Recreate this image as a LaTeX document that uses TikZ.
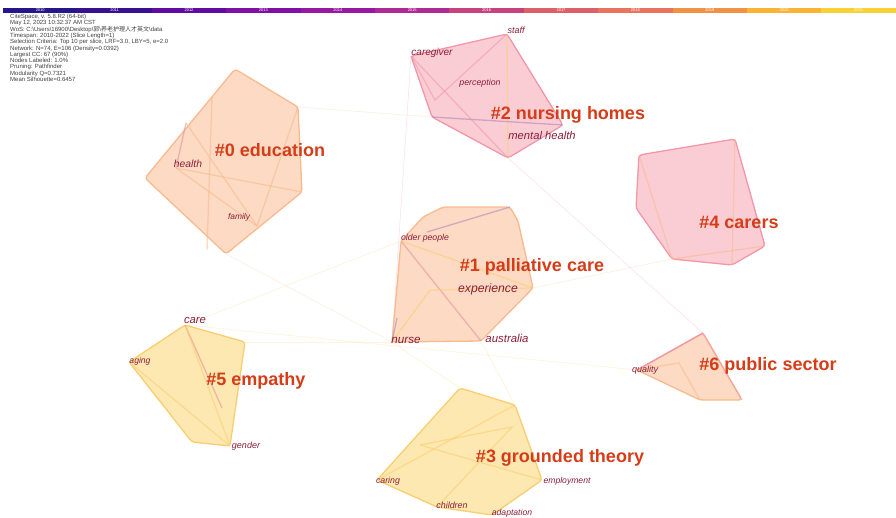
\documentclass[tikz,border=0pt]{standalone}
\usepackage{fontspec}
\setmainfont{Liberation Sans}
\newfontfamily\cjk{Noto Sans CJK SC}
\usepackage{tikz}
\usetikzlibrary{positioning, calc}
\definecolor{peachfill}{RGB}{252,214,188}
\definecolor{peachline}{RGB}{248,186,142}
\definecolor{pinkfill}{RGB}{250,200,208}
\definecolor{pinkline}{RGB}{242,150,168}
\definecolor{yellowfill}{RGB}{253,229,168}
\definecolor{yellowline}{RGB}{250,206,112}
\definecolor{tagred}{RGB}{214,60,24}
\definecolor{termred}{RGB}{140,30,55}
\definecolor{linkpurple}{RGB}{170,130,190}
\definecolor{linkrose}{RGB}{225,140,160}
\definecolor{yr2010}{RGB}{38,22,140}
\definecolor{yr2011}{RGB}{58,16,146}
\definecolor{yr2012}{RGB}{96,12,160}
\definecolor{yr2013}{RGB}{126,16,166}
\definecolor{yr2014}{RGB}{150,26,160}
\definecolor{yr2015}{RGB}{176,42,150}
\definecolor{yr2016}{RGB}{200,66,126}
\definecolor{yr2017}{RGB}{220,96,104}
\definecolor{yr2018}{RGB}{232,116,94}
\definecolor{yr2019}{RGB}{240,146,70}
\definecolor{yr2020}{RGB}{248,180,50}
\definecolor{yr2021}{RGB}{248,210,52}

\begin{document}
\begin{tikzpicture}[x=1pt, y=-1pt,
hull/.style={draw=#1line, fill=#1fill, fill opacity=0.9, line width=1.3pt,
rounded corners=3pt, line join=round},
edge/.style={draw=#1, line width=1.3pt, opacity=0.55},
faint/.style={draw=#1, line width=0.8pt, opacity=0.22},
term/.style={font=\itshape\fontsize{#1}{#1}\selectfont, text=termred, inner sep=0pt},
term/.default=9,
tag/.style={font=\bfseries\fontsize{18}{18}\selectfont, text=tagred, inner sep=0pt}
]
\useasboundingbox (0,0) rectangle (896,517);

% Timeline
\foreach \yr [count=\i from 0] in {2010,...,2021}{
  \fill[yr\yr] ({3+74.4*\i},8) rectangle ({3+74.4*(\i+1)},13);
  \node[font=\fontsize{4}{4}\selectfont, text=white, inner sep=0pt] (y\yr) at ({40.2+74.4*\i},10.6) {\yr};
}

% Run info
\node[anchor=north west, align=left, inner sep=0pt, text=black!75,
font=\fontsize{6}{6.3}\selectfont] (info) at (10,14) {%
CiteSpace, v. 5.8.R2 (64-bit)\\
May 12, 2023 10:32:37 AM CST\\
WoS: C:\textbackslash Users\textbackslash 16900\textbackslash Desktop\textbackslash \smash{\cjk 郭}\textbackslash \smash{\cjk 养老护理人才英文}\textbackslash data\\
Timespan: 2010-2022 (Slice Length=1)\\
Selection Criteria: Top 10 per slice, LRF=3.0, LBY=5, e=2.0\\
Network: N=74, E=106 (Density=0.0392)\\
Largest CC: 67 (90\%)\\
Nodes Labeled: 1.0\%\\
Pruning: Pathfinder\\
Modularity Q=0.7321\\
Mean Silhouette=0.6457};

% Hull corners
\coordinate (e1) at (235,69);  \coordinate (e2) at (298,107);
\coordinate (e3) at (302,192); \coordinate (e4) at (226,254);
\coordinate (e5) at (145,178); \coordinate (eh) at (176,168);
\coordinate (et) at (186,123); \coordinate (ef) at (257,226);
\coordinate (n1) at (411,56);  \coordinate (n2) at (507,34);
\coordinate (n3) at (563,125); \coordinate (n4) at (508,158);
\coordinate (n5) at (432,117); \coordinate (np) at (435,100);
\coordinate (c1) at (639,155); \coordinate (c2) at (735,139);
\coordinate (c3) at (765,246); \coordinate (c4) at (732,265);
\coordinate (c5) at (672,259); \coordinate (c6) at (636,208);
\coordinate (p1) at (443,207); \coordinate (p2) at (510,207);
\coordinate (p3) at (518,221); \coordinate (p4) at (533,288);
\coordinate (p5) at (481,341); \coordinate (p6) at (392,342);
\coordinate (p7) at (401,241); \coordinate (p8) at (423,217);
\coordinate (m1) at (185,325); \coordinate (m2) at (245,342);
\coordinate (m3) at (230,446); \coordinate (m4) at (192,442);
\coordinate (m5) at (129,362);
\coordinate (g1) at (460,388); \coordinate (g2) at (515,405);
\coordinate (g3) at (542,480); \coordinate (g4) at (492,515);
\coordinate (g5) at (437,507); \coordinate (g6) at (377,480);
\coordinate (gi) at (420,445); \coordinate (gj) at (512,427);
\coordinate (q1) at (637,370); \coordinate (q2) at (703,333);
\coordinate (q3) at (742,400); \coordinate (q4) at (700,400);
\coordinate (qi) at (679,363);

% Links between clusters
\draw[faint=peachline] (e2) -- (n5) -- (n3);
\draw[faint=peachline] (e4) -- (p6);
\draw[faint=pinkline] (n1) -- (p6);
\draw[faint=pinkline] (n4) -- (q2);
\draw[faint=peachline] (p4) -- (c5) -- (c3);
\draw[faint=yellowline] (m1) -- (p7);
\draw[faint=yellowline] (m1) -- (q1);
\draw[faint=yellowline] (m2) -- (p6);
\draw[faint=yellowline] (p6) -- (g1);
\draw[faint=yellowline] (p5) -- (g2);

% Clusters
\draw[hull=peach] (e1) -- (e2) -- (e3) -- (e4) -- (e5) -- cycle;
\draw[hull=pink] (n1) -- (n2) -- (n3) -- (n4) -- (n5) -- cycle;
\draw[hull=pink] (c1) -- (c2) -- (c3) -- (c4) -- (c5) -- (c6) -- cycle;
\draw[hull=peach] (p1) -- (p2) -- (p3) -- (p4) -- (p5) -- (p6) -- (p7) -- (p8) -- cycle;
\draw[hull=yellow] (m1) -- (m2) -- (m3) -- (m4) -- (m5) -- cycle;
\draw[hull=yellow] (g1) -- (g2) -- (g3) -- (g4) -- (g5) -- (g6) -- cycle;
\draw[hull=peach] (q1) -- (q2) -- (q3) -- (q4) -- cycle;
\draw[draw=pinkline, line width=1.3pt] (q1) -- (q2);

% Links inside clusters
\draw[edge=linkrose] (eh) -- (et);
\draw[edge=peachline] (eh) -- (e3);
\draw[edge=peachline] (et) -- (ef);
\draw[edge=peachline] (e2) -- (ef);
\draw[edge=peachline] (212,97) -- (207,250);
\draw[edge=peachline] (eh) -- (ef);
\draw[edge=yellowline] (n2) -- (n4);
\draw[edge=linkpurple] (n5) -- (n3);
\draw[edge=pinkline] (n1) -- (np) -- (n2);
\draw[edge=pinkline] (n1) -- (n4);
\draw[edge=linkpurple] (p2) -- (427,232);
\draw[edge=linkrose] (p7) -- (p5);
\draw[edge=linkpurple] (p6) -- (397,318);
\draw[edge=yellowline] (p7) -- (p4);
\draw[edge=yellowline] (p6) -- (430,290) -- (p4);
\draw[edge=peachline] (c2) -- (c4);
\draw[edge=peachline] (c1) -- (c5) -- (c3);
\draw[edge=linkrose] (m1) -- (222,408);
\draw[edge=yellowline] (m5) -- (m3);
\draw[edge=yellowline] (m1) -- (m3);
\draw[edge=yellowline] (gi) -- (gj) -- (g5);
\draw[edge=yellowline] (gi) -- (g3);
\draw[edge=yellowline] (g6) -- (g2);
\draw[edge=peachline] (q1) -- (qi) -- (q4);
\draw[edge=pinkline] (q2) -- (q3);

% Terms
\node[term=10.3] (health) at (188,164) {health};
\node[term=8.4] (family) at (239,217) {family};
\node[term=10] (caregiver) at (432,53) {caregiver};
\node[term=9] (staff) at (516,30) {staff};
\node[term=8.8] (perception) at (480,83) {perception};
\node[term=11.2] (mental) at (542,135) {mental health};
\node[term=8.7] (older) at (425,238) {older people};
\node[term=12.2] (experience) at (488,289) {experience};
\node[term=11.6] (nurse) at (406,340) {nurse};
\node[term=11.4] (australia) at (507,338) {australia};
\node[term=11.3] (care) at (195,321) {care};
\node[term=8.6] (aging) at (140,361) {aging};
\node[term=9] (gender) at (246,446) {gender};
\node[term=8.8] (caring) at (388,481) {caring};
\node[term=8.9] (children) at (452,505) {children};
\node[term=8.6] (employment) at (567,481) {employment};
\node[term=8.6] (adaptation) at (512,513) {adaptation};
\node[term=9] (quality) at (645,370) {quality};

% Cluster labels
\node[tag] (t0) at (270,150) {\#0 education};
\node[tag] (t1) at (532,267) {\#1 palliative care};
\node[tag] (t2) at (568,115) {\#2 nursing homes};
\node[tag] (t3) at (560,458) {\#3 grounded theory};
\node[tag] (t4) at (739,222) {\#4 carers};
\node[tag] (t5) at (256,381) {\#5 empathy};
\node[tag] (t6) at (768,366) {\#6 public sector};

\end{tikzpicture}
\end{document}
